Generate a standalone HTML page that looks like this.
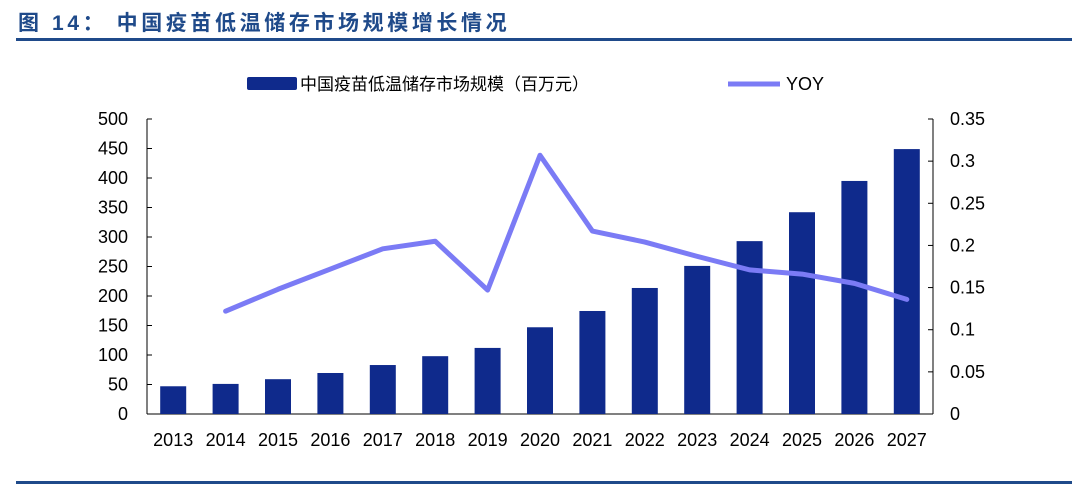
<!DOCTYPE html>
<html><head><meta charset="utf-8"><style>
body{margin:0;background:#fff;width:1080px;height:487px;overflow:hidden}
svg text{font-family:"Liberation Sans","Noto Sans CJK SC",sans-serif}
</style></head><body>
<svg width="1080" height="487">
<text x="18" y="30" font-size="21" font-weight="bold" fill="#1f4a8a" letter-spacing="3.6">图 14： 中国疫苗低温储存市场规模增长情况</text>
<rect x="16" y="38" width="1056" height="3" fill="#1f4a8a"/>
<rect x="16" y="481" width="1056" height="3" fill="#1f4a8a"/>
<g>
<rect x="247" y="77" width="50" height="13" rx="2" fill="#0f2a8c"/>
<text x="300" y="90" font-size="17" fill="#000">中国疫苗低温储存市场规模（百万元）</text>
<line x1="728" y1="84" x2="780" y2="84" stroke="#7b7bf5" stroke-width="5"/>
<text x="786" y="90" font-size="18" fill="#000">YOY</text>
</g>
<g id="plot"></g>
</svg>
<script>
const categories=["2013","2014","2015","2016","2017","2018","2019","2020","2021","2022","2023","2024","2025","2026","2027"];
const marketSize=[47,51,59,69.5,83,98,112,147,174.6,213.6,251,293,342,395,449];
const yoy=[null,0.122,0.148,0.172,0.196,0.205,0.147,0.307,0.217,0.204,0.187,0.171,0.166,0.155,0.136];
const leftTicks=[0,50,100,150,200,250,300,350,400,450,500];
const rightTicks=["0","0.05","0.1","0.15","0.2","0.25","0.3","0.35"];
const NS="http://www.w3.org/2000/svg";
const g=document.getElementById('plot');
const L=147,R=933,T=119,B=414;
const step=(R-L)/categories.length;
const xc=i=>L+step*(i+0.5);
const yl=v=>B-(B-T)*v/500;
const yr=v=>B-(B-T)*v/0.35;
function mk(t,a){const e=document.createElementNS(NS,t);for(const k in a)e.setAttribute(k,a[k]);g.appendChild(e);return e;}
let ax=mk('line',{x1:L,y1:T,x2:L,y2:B,stroke:'#000','stroke-width':1});


let ax2=mk('line',{x1:R,y1:T,x2:R,y2:B,stroke:'#000','stroke-width':1});


let bx=mk('line',{x1:L,y1:B,x2:R,y2:B,stroke:'#000','stroke-width':1});


leftTicks.forEach(v=>{
  mk('line',{x1:L,y1:yl(v),x2:L+5,y2:yl(v),stroke:'#000'});
  const t=mk('text',{x:L-19,y:yl(v)+6,'font-size':18,'text-anchor':'end'});t.textContent=v;
  
  
});
rightTicks.forEach(s=>{
  const v=parseFloat(s);
  mk('line',{x1:R-5,y1:yr(v),x2:R,y2:yr(v),stroke:'#000'});
  const t=mk('text',{x:R+17,y:yr(v)+6,'font-size':18});t.textContent=s;
  
  
});
categories.forEach((c,i)=>{
  const b=mk('rect',{x:xc(i)-13,y:yl(marketSize[i]),width:26,height:B-yl(marketSize[i]),fill:'#0f2a8c'});
  
  
  const t=mk('text',{x:xc(i),y:446,'font-size':18,'text-anchor':'middle'});t.textContent=c;
  
  
});
let pts=[];yoy.forEach((v,i)=>{if(v!==null)pts.push(xc(i)+','+yr(v));});
const pl=mk('polyline',{points:pts.join(' '),fill:'none',stroke:'#7b7bf5','stroke-width':5,'stroke-linejoin':'round','stroke-linecap':'round'});


</script>
</body></html>
